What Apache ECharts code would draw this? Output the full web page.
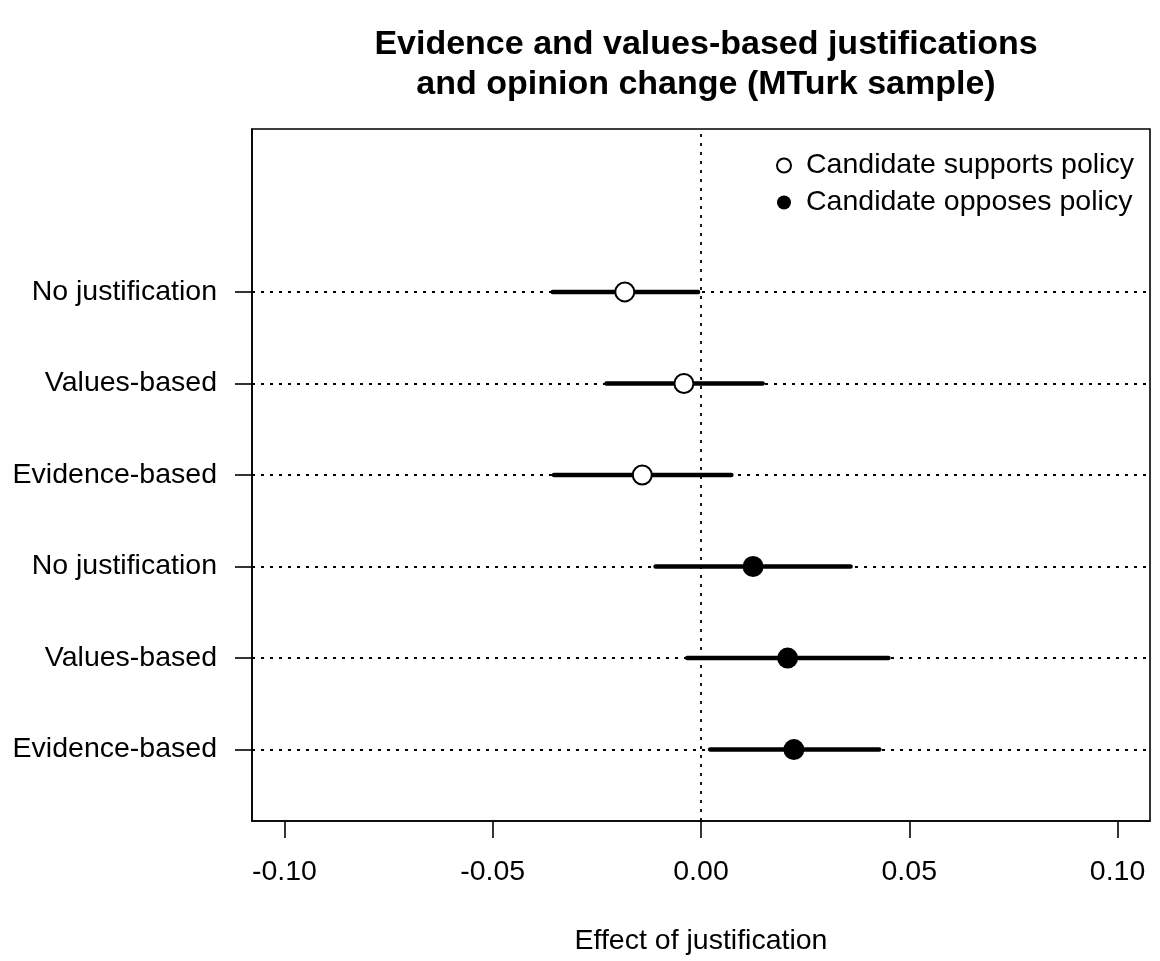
<!DOCTYPE html>
<html>
<head>
<meta charset="utf-8">
<script src="https://cdn.jsdelivr.net/npm/echarts@6/dist/echarts.min.js"></script>
<style>
html,body{margin:0;padding:0;background:#fff;}
#chart{width:1160px;height:961px;}
</style>
</head>
<body>
<div id="chart"></div>
<script>
// Row labels, top to bottom
const rowLabels = ["No justification", "Values-based", "Evidence-based", "No justification", "Values-based", "Evidence-based"];
const rowPositions = [6, 5, 4, 3, 2, 1];

// Candidate supports policy (rows 6,5,4)
const supportsPos = [6, 5, 4];
const supportsEst = [-0.0183, -0.0041, -0.0141];
const supportsLo  = [-0.0356, -0.0227, -0.0353];
const supportsHi  = [-0.0007, 0.0148, 0.0073];

// Candidate opposes policy (rows 3,2,1)
const opposesPos = [3, 2, 1];
const opposesEst = [0.0125, 0.0208, 0.0223];
const opposesLo  = [-0.0109, -0.0033, 0.0022];
const opposesHi  = [0.0359, 0.0450, 0.0428];

const xTicks = [-0.10, -0.05, 0.00, 0.05, 0.10];

const FONT = "'Liberation Sans', Arial, Helvetica, sans-serif";
const FS = 28.5;

const ciData = [];
supportsPos.forEach((y, i) => ciData.push([supportsLo[i], supportsHi[i], y]));
opposesPos.forEach((y, i) => ciData.push([opposesLo[i], opposesHi[i], y]));

const chart = echarts.init(document.getElementById('chart'), null, {renderer: 'canvas'});

const dotted = {color: '#000', width: 1.8, type: [3, 6], opacity: 1};

chart.setOption({
  animation: false,
  backgroundColor: '#fff',
  title: {
    text: 'Evidence and values-based justifications\nand opinion change (MTurk sample)',
    left: 701,
    top: 20,
    textAlign: 'center',
    textStyle: {fontFamily: FONT, fontSize: 34, fontWeight: 'bold', color: '#000', lineHeight: 40}
  },
  legend: {
    orient: 'vertical',
    left: 771,
    top: 146,
    itemWidth: 14,
    itemHeight: 14,
    itemGap: 8,
    textStyle: {fontFamily: FONT, fontSize: FS, color: '#000', padding: [0, 0, 0, 10]},
    data: ['Candidate supports policy', 'Candidate opposes policy']
  },
  grid: {
    left: 252, right: 10, top: 129, bottom: 140,
    show: true, borderColor: '#000', borderWidth: 1.6, backgroundColor: 'transparent'
  },
  xAxis: {
    type: 'value',
    min: -0.1078, max: 0.1078,
    name: 'Effect of justification',
    nameLocation: 'middle',
    nameGap: 106,
    nameTextStyle: {fontFamily: FONT, fontSize: FS, color: '#000'},
    axisLine: {show: true, onZero: false, lineStyle: {color: '#000', width: 1.6}},
    axisTick: {show: true, length: 17, inside: false, lineStyle: {color: '#000', width: 1.6}, customValues: xTicks},
    axisLabel: {
      show: true, margin: 37, fontFamily: FONT, fontSize: FS, color: '#000',
      customValues: xTicks,
      formatter: v => v.toFixed(2)
    },
    splitLine: {show: false}
  },
  yAxis: {
    type: 'value',
    min: 0.22, max: 7.78,
    axisLine: {show: true, onZero: false, lineStyle: {color: '#000', width: 1.6}},
    axisTick: {show: true, length: 17, inside: false, lineStyle: {color: '#000', width: 1.6}, customValues: rowPositions},
    axisLabel: {
      show: true, margin: 35, fontFamily: FONT, fontSize: FS, color: '#000',
      customValues: rowPositions,
      formatter: v => rowLabels[rowPositions.indexOf(Math.round(v))] || ''
    },
    splitLine: {show: false}
  },
  series: [
    {
      type: 'custom',
      name: 'ci',
      z: 3,
      silent: true,
      encode: {x: [0, 1], y: 2},
      data: ciData,
      renderItem: function (params, api) {
        const a = api.coord([api.value(0), api.value(2)]);
        const b = api.coord([api.value(1), api.value(2)]);
        return {
          type: 'line',
          shape: {x1: a[0], y1: a[1], x2: b[0], y2: b[1]},
          style: {stroke: '#000', lineWidth: 4.5, lineCap: 'round'}
        };
      },
      markLine: {
        silent: true,
        symbol: ['none', 'none'],
        label: {show: false},
        lineStyle: dotted,
        emphasis: {disabled: true},
        z: 1,
        data: rowPositions.map(y => ({yAxis: y})).concat([{xAxis: 0}])
      }
    },
    {
      type: 'scatter',
      name: 'Candidate supports policy',
      z: 5,
      symbol: 'circle',
      symbolSize: 19,
      itemStyle: {color: '#fff', borderColor: '#000', borderWidth: 2, opacity: 1},
      data: supportsEst.map((v, i) => [v, supportsPos[i]])
    },
    {
      type: 'scatter',
      name: 'Candidate opposes policy',
      z: 5,
      symbol: 'circle',
      symbolSize: 21,
      itemStyle: {color: '#000', borderColor: '#000', borderWidth: 0, opacity: 1},
      data: opposesEst.map((v, i) => [v, opposesPos[i]])
    }
  ]
});
</script>
</body>
</html>
